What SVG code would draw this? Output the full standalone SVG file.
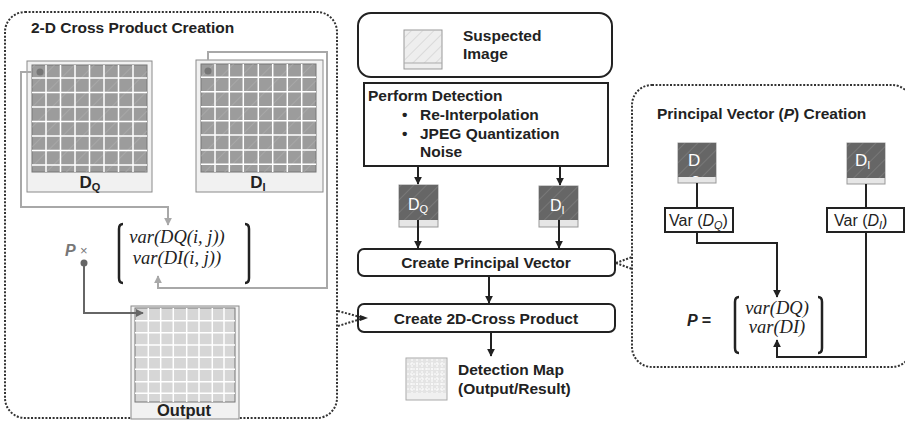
<svg xmlns="http://www.w3.org/2000/svg" width="905" height="422" viewBox="0 0 905 422">
<style>
.t{font-family:"Liberation Sans",Arial,sans-serif;fill:#222}
.b{font-weight:bold}
.m{font-family:"Liberation Serif","Times New Roman",serif;font-style:italic;fill:#222}
.dot{fill:none;stroke:#333;stroke-width:2;stroke-dasharray:2 1.6}
.box{fill:#fff;stroke:#222;stroke-width:2}
.blk{fill:none;stroke:#222;stroke-width:2}
.gl{fill:none;stroke:#a8a8a8;stroke-width:2}
.dg{fill:none;stroke:#666;stroke-width:2}
.frame{fill:#f1f1f1;stroke:#8a8a8a;stroke-width:1}
.gridw{fill:none;stroke:#fff;stroke-width:1.5}
.brk{fill:none;stroke:#222;stroke-width:2.5}
</style>
<defs>
<pattern id="hatchL" width="14" height="14" patternUnits="userSpaceOnUse" patternTransform="rotate(45)"><line x1="0" y1="0" x2="0" y2="14" stroke="#b3b3b3" stroke-width="1"/></pattern>
<pattern id="hatchD" width="9" height="9" patternUnits="userSpaceOnUse" patternTransform="rotate(45)"><line x1="0" y1="0" x2="0" y2="9" stroke="#8a8a8a" stroke-width="1"/></pattern>
<pattern id="hatchS" width="8" height="8" patternUnits="userSpaceOnUse" patternTransform="rotate(45)"><line x1="0" y1="0" x2="0" y2="8" stroke="#bbb" stroke-width="0.8"/></pattern>
<marker id="aK" viewBox="0 0 10 10" refX="9" refY="5" markerWidth="8" markerHeight="8" markerUnits="userSpaceOnUse" orient="auto"><path d="M0,0 L10,5 L0,10 z" fill="#222"/></marker>
<marker id="aG" viewBox="0 0 10 10" refX="9" refY="5" markerWidth="8" markerHeight="8" markerUnits="userSpaceOnUse" orient="auto"><path d="M0,0 L10,5 L0,10 z" fill="#a8a8a8"/></marker>
<marker id="aD" viewBox="0 0 10 10" refX="9" refY="5" markerWidth="8" markerHeight="8" markerUnits="userSpaceOnUse" orient="auto"><path d="M0,0 L10,5 L0,10 z" fill="#666"/></marker>
<clipPath id="cq"><rect x="678" y="143" width="38" height="34"/></clipPath>
</defs>
<rect width="905" height="422" fill="#fff"/>

<!-- Left panel -->
<g id="panel-cross">
<rect class="dot" x="5" y="12" width="332" height="406" rx="20"/>
<text class="t b" x="31" y="33" font-size="15.5">2-D Cross Product Creation</text>
</g>

<g id="img-DQ">
<rect class="frame" x="27" y="61" width="125" height="131"/>
<rect x="32" y="65" width="115" height="107" fill="#9c9c9c" stroke="#777" stroke-width="1"/>
<rect x="32" y="65" width="115" height="107" fill="url(#hatchL)"/>
<path class="gridw" d="M46,65V172M60.5,65V172M75,65V172M89.5,65V172M104,65V172M118.5,65V172M133,65V172M32,78H147M32,92.5H147M32,107H147M32,121.5H147M32,136H147M32,150.5H147M32,165H147"/>
<circle cx="40" cy="72" r="3.5" fill="#777"/>
<text class="t b" x="90" y="188" font-size="17" text-anchor="middle">D<tspan font-size="11" dy="3">Q</tspan></text>
</g>

<g id="img-DI">
<rect class="frame" x="196" y="60" width="127" height="132"/>
<rect x="201" y="64" width="115" height="108" fill="#9c9c9c" stroke="#777" stroke-width="1"/>
<rect x="201" y="64" width="115" height="108" fill="url(#hatchL)"/>
<path class="gridw" d="M215,64V172M229.3,64V172M243.3,64V172M258.3,64V172M272.7,64V172M287.3,64V172M301.7,64V172M201,77.3H316M201,91.7H316M201,106.7H316M201,120.7H316M201,135H316M201,150H316M201,164.3H316"/>
<circle cx="208" cy="71" r="3.5" fill="#777"/>
<text class="t b" x="258" y="188" font-size="17" text-anchor="middle">D<tspan font-size="11" dy="3">I</tspan></text>
</g>

<g id="matrix-left">
<path class="brk" d="M123,224 Q119,224 119,229 L119,278 Q119,283 123,283"/>
<path class="brk" d="M245,224 Q249,224 249,229 L249,278 Q249,283 245,283"/>
<text class="m" x="177" y="243" font-size="18.5" text-anchor="middle">var(DQ(i, j))</text>
<text class="m" x="177" y="264" font-size="18.5" text-anchor="middle">var(DI(i, j))</text>
</g>

<g id="p-times">
<text class="t b" x="65" y="256" font-size="16" font-style="italic" style="fill:#777">P</text>
<text class="t" x="80" y="255" font-size="13" style="fill:#777">×</text>
<circle cx="84" cy="263" r="3.5" fill="#666"/>
</g>

<g id="img-output">
<rect class="frame" x="131" y="306" width="108" height="113" fill="#efefef"/>
<rect x="135" y="308" width="100" height="94" fill="#d6d6d6" stroke="#777" stroke-width="1"/>
<path class="gridw" d="M148.3,308V402M160.7,308V402M173.3,308V402M186.7,308V402M199,308V402M212.3,308V402M224,308V402M135,320.7H235M135,332.7H235M135,345H235M135,357.3H235M135,369.3H235M135,381.7H235M135,393.3H235"/>
<text class="t b" x="184" y="416" font-size="16.5" text-anchor="middle">Output</text>
</g>

<!-- Center column -->
<g id="suspected">
<rect class="box" x="358" y="13" width="254" height="64" rx="13"/>
<rect x="404" y="30" width="38" height="39" fill="#eee" stroke="#999" stroke-width="1"/>
<rect x="404" y="30" width="38" height="33" fill="url(#hatchS)"/>
<line x1="404" y1="63" x2="442" y2="63" stroke="#aaa" stroke-width="1"/>
<text class="t b" x="463" y="41" font-size="15.5">Suspected</text>
<text class="t b" x="463" y="59" font-size="15.5">Image</text>
</g>

<g id="perform">
<rect class="box" x="364" y="83" width="244" height="83"/>
<text class="t b" x="368" y="101" font-size="15.5">Perform Detection</text>
<text class="t b" x="402" y="120" font-size="15.5">•</text>
<text class="t b" x="420" y="120" font-size="15.5">Re-Interpolation</text>
<text class="t b" x="402" y="139" font-size="15.5">•</text>
<text class="t b" x="420" y="139" font-size="15.5">JPEG Quantization</text>
<text class="t b" x="420" y="157" font-size="15.5">Noise</text>
</g>

<g id="icon-DQ">
<rect x="399" y="185" width="39" height="42" fill="#e6e6e6" stroke="#999" stroke-width="1"/>
<rect x="399" y="185" width="39" height="35" fill="#666"/>
<rect x="399" y="185" width="39" height="35" fill="url(#hatchD)"/>
<text class="t" x="408" y="210" font-size="16" style="fill:#fff">D<tspan font-size="11" dy="3">Q</tspan></text>
</g>

<g id="icon-DI">
<rect x="539" y="186" width="39" height="41" fill="#e6e6e6" stroke="#999" stroke-width="1"/>
<rect x="539" y="186" width="39" height="34" fill="#666"/>
<rect x="539" y="186" width="39" height="34" fill="url(#hatchD)"/>
<text class="t" x="550" y="211" font-size="16" style="fill:#fff">D<tspan font-size="11" dy="3">I</tspan></text>
</g>

<g id="create-pv">
<rect class="box" x="358" y="249" width="257" height="27" rx="6"/>
<text class="t b" x="486" y="268" font-size="15.5" text-anchor="middle">Create Principal Vector</text>
</g>

<g id="create-2d">
<rect class="box" x="358" y="304" width="257" height="28" rx="6"/>
<text class="t b" x="486" y="324" font-size="15.5" text-anchor="middle">Create 2D-Cross Product</text>
</g>

<g id="detection-map">
<rect x="406" y="358" width="41" height="42" fill="#f0f0f0" stroke="#aaa" stroke-width="1"/>
<rect x="407" y="359" width="39" height="34" fill="#e4e4e4"/>
<path d="M412,359V393M417,359V393M422,359V393M427,359V393M432,359V393M437,359V393M442,359V393M407,364H446M407,369H446M407,374H446M407,379H446M407,384H446M407,389H446" stroke="#fff" stroke-width="1" stroke-dasharray="2 1" fill="none"/>
<text class="t b" x="458" y="375" font-size="15.5">Detection Map</text>
<text class="t b" x="458" y="394" font-size="15.5">(Output/Result)</text>
</g>

<!-- Right panel -->
<g id="panel-pv">
<rect class="dot" x="632" y="85" width="280" height="282" rx="20"/>
<text class="t b" x="657" y="119" font-size="15.5">Principal Vector (<tspan font-style="italic">P</tspan>) Creation</text>
</g>

<g id="r-icon-DQ">
<rect x="678" y="143" width="38" height="40" fill="#e6e6e6" stroke="#999" stroke-width="1"/>
<rect x="678" y="143" width="38" height="34" fill="#666"/>
<rect x="678" y="143" width="38" height="34" fill="url(#hatchD)"/>
<text class="t" x="688" y="166" font-size="17" style="fill:#fff">D</text>
<text class="t" x="691" y="185" font-size="12" style="fill:#fff" clip-path="url(#cq)">Q</text>
</g>

<g id="r-icon-DI">
<rect x="847" y="143" width="38" height="41" fill="#e6e6e6" stroke="#999" stroke-width="1"/>
<rect x="847" y="143" width="38" height="35" fill="#666"/>
<rect x="847" y="143" width="38" height="35" fill="url(#hatchD)"/>
<text class="t" x="855" y="166" font-size="17" style="fill:#fff">D<tspan font-size="11" dy="3">I</tspan></text>
</g>

<g id="var-DQ">
<rect class="box" x="665" y="208" width="68" height="24"/>
<text class="t" x="669" y="226" font-size="16">Var (<tspan font-style="italic">D</tspan><tspan font-style="italic" font-size="11" dy="3">Q</tspan><tspan dy="-3">)</tspan></text>
</g>

<g id="var-DI">
<rect class="box" x="827" y="208" width="77" height="24"/>
<text class="t" x="834" y="226" font-size="16">Var (<tspan font-style="italic">D</tspan><tspan font-style="italic" font-size="11" dy="3">I</tspan><tspan dy="-3">)</tspan></text>
</g>

<g id="matrix-right">
<path class="brk" d="M739,297 Q735,297 735,302 L735,348 Q735,353 739,353"/>
<path class="brk" d="M818,297 Q822,297 822,302 L822,348 Q822,353 818,353"/>
<text class="m" x="777" y="314" font-size="18.5" text-anchor="middle">var(DQ)</text>
<text class="m" x="777" y="333" font-size="18.5" text-anchor="middle">var(DI)</text>
<text class="t b" x="687" y="326" font-size="16" font-style="italic">P =</text>
</g>

<!-- Connectors -->
<g id="connectors">
<path class="gl" d="M32,72 H21 V207 H168 V225" marker-end="url(#aG)"/>
<path class="gl" d="M208,60 V52 H327 V288 H158 V276" marker-end="url(#aG)"/>
<path class="dg" d="M84,263 V313 H143" marker-end="url(#aD)"/>
<path class="blk" d="M418,166 V184" marker-end="url(#aK)"/>
<path class="blk" d="M560,166 V185" marker-end="url(#aK)"/>
<path class="blk" d="M418,220 V248" marker-end="url(#aK)"/>
<path class="blk" d="M559,220 V248" marker-end="url(#aK)"/>
<path class="blk" d="M489,276 V303" marker-end="url(#aK)"/>
<path class="blk" d="M491,332 V356" marker-end="url(#aK)"/>
<path class="blk" d="M697,183 V208"/>
<path class="blk" d="M866,184 V208"/>
<path class="blk" d="M697,232 V243 H777 V297" marker-end="url(#aK)"/>
<path class="blk" d="M866,232 V357 H777 V340" marker-end="url(#aK)"/>
<path class="dot" d="M338,311 L364,318 M338,326 L364,318"/>
<path d="M360,315 L368,318 L360,321 z" fill="#222"/>
<path class="dot" d="M616,263 L632,257 M616,263 L632,269"/>
</g>
</svg>
